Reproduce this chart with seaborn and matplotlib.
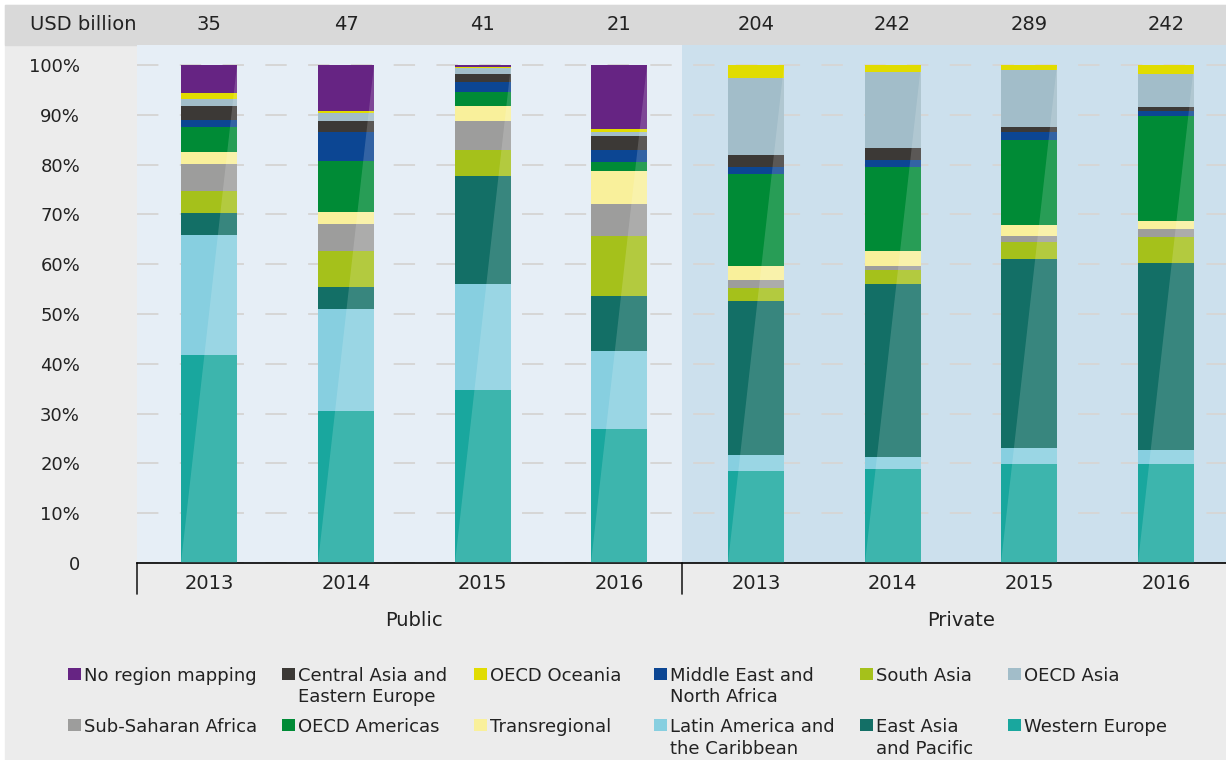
import matplotlib.pyplot as plt
import matplotlib.transforms as mtransforms
from matplotlib.patches import Rectangle, Polygon
import pandas as pd
import seaborn as sns

W, H = 1226, 760

# bars: sector / year, totals in USD billion
groups = ["Public"] * 4 + ["Private"] * 4
years = ["2013", "2014", "2015", "2016"] * 2
totals = [35, 47, 41, 21, 204, 242, 289, 242]

# shares (%) per region, stacked bottom -> top
regions = ["Western Europe", "Latin America and\nthe Caribbean", "East Asia\nand Pacific",
           "South Asia", "Sub-Saharan Africa", "Transregional", "OECD Americas",
           "Middle East and\nNorth Africa", "Central Asia and\nEastern Europe",
           "OECD Asia", "OECD Oceania", "No region mapping"]
colors = ["#19a79e", "#87cfe0", "#136f66", "#a5c11b", "#9d9d9c", "#f9f09b",
          "#008b36", "#0c4693", "#3c3936", "#a2bdc9", "#e1dc00", "#662483"]

western_europe = [41.7, 30.6, 34.8, 27.0, 18.5, 18.9, 19.9, 19.9]
latin_america = [24.1, 20.3, 21.3, 15.5, 3.2, 2.4, 3.2, 2.8]
east_asia = [4.4, 4.6, 21.6, 11.2, 31.0, 34.8, 37.9, 37.5]
south_asia = [4.4, 7.1, 5.2, 11.9, 2.5, 2.7, 3.4, 5.2]
sub_saharan = [5.5, 5.4, 5.8, 6.5, 1.7, 0.8, 1.2, 1.7]
transregional = [2.4, 2.4, 3.0, 6.6, 2.7, 3.0, 2.2, 1.5]
oecd_americas = [5.0, 10.3, 2.85, 1.8, 18.5, 16.9, 17.1, 21.2]
mena = [1.5, 5.8, 2.1, 2.4, 1.4, 1.5, 1.6, 0.9]
central_asia = [2.75, 2.2, 1.5, 2.8, 2.4, 2.3, 1.0, 0.8]
oecd_asia = [1.45, 1.6, 1.2, 0.9, 15.5, 15.3, 11.5, 6.7]
oecd_oceania = [1.2, 0.4, 0.2, 0.5, 2.6, 1.4, 1.0, 1.8]
no_region = [5.6, 9.3, 0.4, 12.9, 0, 0, 0, 0]

shares = [western_europe, latin_america, east_asia, south_asia, sub_saharan, transregional,
          oecd_americas, mena, central_asia, oecd_asia, oecd_oceania, no_region]

# legend layout (row-wise, as in the original)
legend_rows = [["No region mapping", "Central Asia and\nEastern Europe", "OECD Oceania",
                "Middle East and\nNorth Africa", "South Asia", "OECD Asia"],
               ["Sub-Saharan Africa", "OECD Americas", "Transregional",
                "Latin America and\nthe Caribbean", "East Asia\nand Pacific", "Western Europe"]]

df = pd.DataFrame({"bar": [f"{g} {y}" for g, y in zip(groups, years)]})
for name, vals in zip(regions, shares):
    df[name] = vals
cum = df[regions].cumsum(axis=1)
cum["bar"] = df["bar"]

sns.set_theme(style="white")
plt.rcParams["font.family"] = ["DejaVu Sans"]

fig = plt.figure(figsize=(W / 100, H / 100), dpi=100, facecolor="white")
fig.add_artist(Rectangle((5 / W, 0), 1, 1 - 5 / H, transform=fig.transFigure,
                         color="#ececec", zorder=-2))
fig.add_artist(Rectangle((5 / W, 1 - 45 / H), 1, 40 / H, transform=fig.transFigure,
                         color="#d9d9d9", zorder=-1))

ax = fig.add_axes([137 / W, 1 - 563 / H, 1 - 137 / W, 518 / H])
ax.set_facecolor("#e6eef6")
split = 3.46
ax.axvspan(split, 8, color="#cce0ed", zorder=0, lw=0)

# stacked bars: draw cumulative totals from the top layer down
for i in reversed(range(len(regions))):
    sns.barplot(data=cum, x="bar", y=regions[i], color=colors[i], width=0.41,
                saturation=1, errorbar=None, linewidth=0, ax=ax)

# light diagonal sheen on each bar
for p in ax.containers[0]:
    x0, w, h = p.get_x(), p.get_width(), p.get_height()
    ax.add_patch(Polygon([(x0 + w, h), (x0 + w, 0), (x0, 0)], closed=True,
                         facecolor="white", alpha=0.16, lw=0, zorder=3))

ax.set_xlim(-0.529, 7.44)
ax.set_ylim(0, 104)
ax.set_yticks(range(0, 101, 10))
ax.set_yticklabels(["0"] + [f"{v}%" for v in range(10, 101, 10)])
ax.set_xticks(range(8))
ax.set_xticklabels(years)
ax.set_xlabel("")
ax.set_ylabel("")
ax.set_axisbelow(True)
ax.yaxis.grid(True, color="#d6d6d6", linestyle=(0, (11, 11)), linewidth=1.4)
ax.xaxis.grid(False)
ax.tick_params(axis="y", length=0, pad=41, labelsize=13, labelcolor="#222222")
ax.tick_params(axis="x", length=0, pad=8, labelsize=14, labelcolor="#222222")
for s in ["left", "right", "top"]:
    ax.spines[s].set_visible(False)
ax.spines["bottom"].set_color("black")
ax.spines["bottom"].set_linewidth(1.2)

trans = mtransforms.blended_transform_factory(ax.transData, ax.transAxes)
for xv in [-0.529, split]:
    ax.plot([xv, xv], [0, -31 / 518], transform=trans, color="#222222", lw=1.2, clip_on=False)
ax.text(1.5, -58 / 518, "Public", transform=trans, ha="center", va="center", fontsize=14, color="#222222")
ax.text(5.5, -58 / 518, "Private", transform=trans, ha="center", va="center", fontsize=14, color="#222222")

# header row with totals
fig.text(83 / W, 1 - 25 / H, "USD billion", ha="center", va="center", fontsize=14, color="#222222")
for i, t in enumerate(totals):
    ax.text(i, 1 + 20 / 518, str(t), transform=trans, ha="center", va="center",
            fontsize=14, color="#222222", clip_on=False)

# legend
col_x = [68, 282, 474, 654, 860, 1008]
row_top = [667, 718]
color_of = dict(zip(regions, colors))
for r, row in enumerate(legend_rows):
    for c, name in enumerate(row):
        fig.add_artist(Rectangle((col_x[c] / W, 1 - (row_top[r] + 13) / H), 13 / W, 12 / H,
                                 transform=fig.transFigure, color=color_of[name], lw=0))
        fig.text((col_x[c] + 16) / W, 1 - row_top[r] / H, name, ha="left", va="top",
                 fontsize=13, color="#222222", linespacing=1.25)

fig.savefig("out.png", dpi=100, facecolor=fig.get_facecolor())
